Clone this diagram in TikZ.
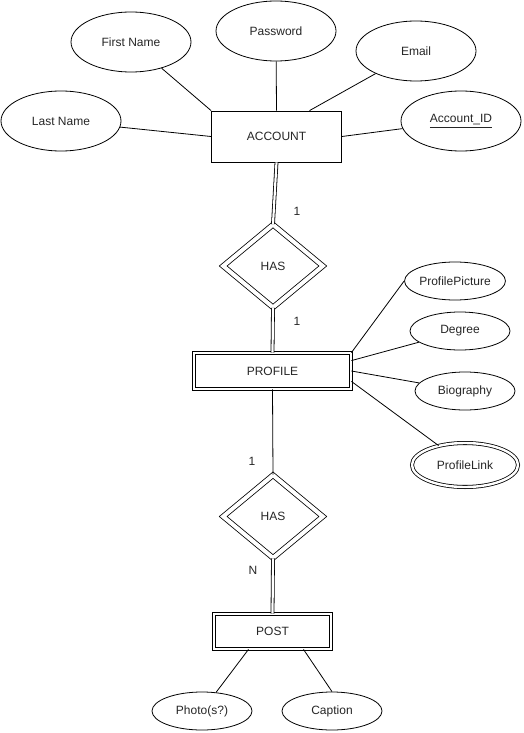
\documentclass[tikz,border=0pt]{standalone}
\usepackage{fontspec}
\setmainfont{Liberation Sans}
\usetikzlibrary{shapes.geometric}
\begin{document}
\begin{tikzpicture}[x=1pt,y=-1pt,
  every node/.style={font=\fontsize{12}{14}\selectfont, text=black!85},
  attr/.style={draw, ellipse, line width=0.8pt, inner sep=0pt},
  bigattr/.style={attr, minimum width=120pt, minimum height=60pt},
  smallattr/.style={attr, minimum width=100pt, minimum height=38pt},
  multiattr/.style={attr, minimum width=106pt, minimum height=44pt, double, double distance=2.4pt},
  entity/.style={draw, rectangle, line width=0.8pt, inner sep=0pt},
  weakentity/.style={entity, double, double distance=2.6pt},
  relation/.style={draw, diamond, line width=0.8pt, inner sep=0pt, double, double distance=4pt},
  link/.style={line width=0.8pt},
  dlink/.style={line width=0.8pt, double, double distance=2.2pt},
  card/.style={font=\fontsize{12}{14}\selectfont}
]
\useasboundingbox (0,0) rectangle (523,733);
\fill[white] (0,0) rectangle (523,733);

% ACCOUNT and its attributes
\node[entity, minimum width=130pt, minimum height=51pt] (acc) at (276.5,136.5) {ACCOUNT};
\node[bigattr] (fn) at (131,42) {First Name};
\node[bigattr] (pw) at (276,31) {Password};
\node[bigattr] (em) at (416,51) {Email};
\node[bigattr] (ln) at (61,121) {Last Name};
\node[bigattr] (aid) at (461,121) {\underline{Account\_ID}};

\draw[link] (fn) -- (acc.north west);
\draw[link] (pw) -- (acc.north);
\draw[link] (em) -- ([xshift=33pt]acc.north);
\draw[link] (ln) -- (acc.west);
\draw[link] (aid) -- (acc.east);

% ACCOUNT -- HAS -- PROFILE
\node[relation, minimum width=100pt, minimum height=83pt] (has1) at (273,266) {HAS};
\node[weakentity, minimum width=157pt, minimum height=36pt] (prof) at (272.5,371) {PROFILE};
\draw[dlink] (acc.south) -- (has1.north);
\draw[dlink] (has1.south) -- (prof.north);
\node[card] (c1) at (297,211) {1};
\node[card] (c2) at (297,321) {1};

% PROFILE attributes
\node[smallattr] (pp) at (455,281) {ProfilePicture};
\node[smallattr] (deg) at (460,331) {Degree};
\node[smallattr] (bio) at (465,391) {Biography};
\node[multiattr] (pl) at (465,465) {ProfileLink};

\draw[link] (pp.west) -- (prof.north east);
\draw[link] (deg) -- ([yshift=-8pt]prof.north east);
\draw[link] (bio) -- (prof.east);
\draw[link] (pl) -- ([yshift=8pt]prof.south east);

% PROFILE -- HAS -- POST
\node[relation, minimum width=100pt, minimum height=83pt] (has2) at (273,516.5) {HAS};
\node[weakentity, minimum width=117pt, minimum height=35pt] (post) at (272.5,631.5) {POST};
\draw[link] (prof.south) -- (has2.north);
\draw[dlink] (has2.south) -- (post.north);
\node[card] (c3) at (252,461) {1};
\node[card] (c4) at (253,570) {N};

% POST attributes
\node[smallattr] (ph) at (202,711) {Photo(s?)};
\node[smallattr] (cap) at (332,711) {Caption};
\draw[link] ([xshift=-24pt]post.south) -- (ph);
\draw[link] ([xshift=31pt]post.south) -- (cap.north);
\end{tikzpicture}
\end{document}
